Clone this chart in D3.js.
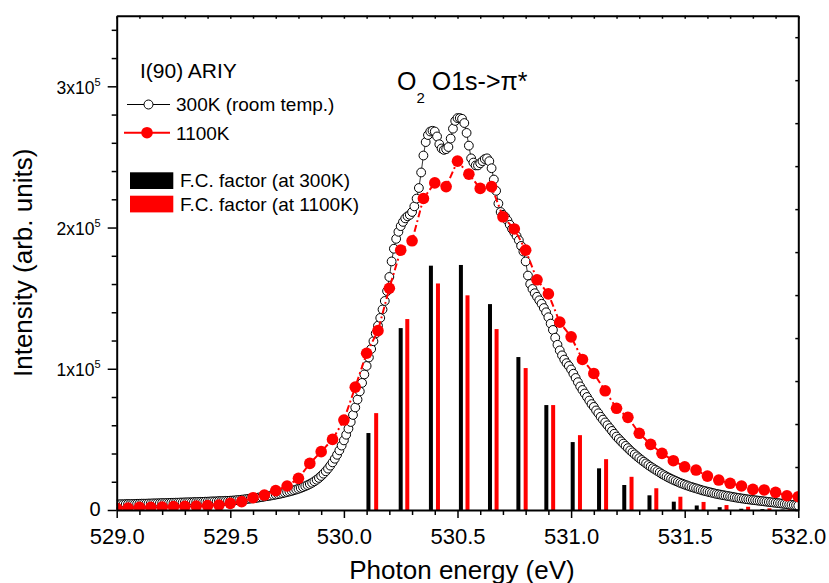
<!DOCTYPE html>
<html lang="en">
<head>
<meta charset="utf-8">
<title>O2 O1s->pi* ARIY</title>
<script src="https://cdnjs.cloudflare.com/ajax/libs/d3/7.8.5/d3.min.js"></script>
<style>
  body { margin: 0; background: #fff; }
  svg { display: block; font-family: "Liberation Sans", Arial, sans-serif; }
  .axis path, .axis line { stroke: #000; }
</style>
</head>
<body>
<div id="chart"></div>
<script>
// ---- data, intensities in units of 1000 counts ----
const e300Start = 529.0, e300Step = 0.01;
const i300K = [
  4.0, 4.0, 4.1, 4.1, 4.2, 4.2, 4.2, 4.3, 4.3, 4.4,
  4.4, 4.5, 4.5, 4.5, 4.6, 4.6, 4.7, 4.7, 4.8, 4.8,
  4.9, 4.9, 5.0, 5.0, 5.1, 5.1, 5.2, 5.2, 5.3, 5.3,
  5.4, 5.4, 5.5, 5.5, 5.6, 5.6, 5.7, 5.8, 5.8, 5.9,
  5.9, 6.0, 6.1, 6.1, 6.2, 6.3, 6.3, 6.4, 6.5, 6.5,
  6.6, 6.7, 6.8, 7.0, 7.1, 7.3, 7.5, 7.7, 7.9, 8.1,
  8.3, 8.5, 8.7, 9.0, 9.2, 9.5, 9.8, 10.0, 10.3, 10.6,
  10.9, 11.2, 11.5, 11.9, 12.3, 12.7, 13.1, 13.5, 14.0, 14.5,
  15.0, 15.6, 16.2, 16.9, 17.6, 18.4, 19.3, 20.3, 21.4, 22.7,
  24.1, 25.7, 27.4, 29.3, 31.4, 33.7, 36.3, 39.1, 42.2, 45.6,
  49.3, 53.3, 57.6, 62.3, 67.3, 72.6, 78.2, 84, 90, 96,
  102, 108, 114, 119.5, 125, 130.5, 136, 142, 148, 155,
  165, 176, 185, 192, 197, 201, 204, 206.5, 208, 209,
  211, 215, 220.5, 228, 239, 251, 260.5, 265.5, 268, 268.5,
  268, 264.5, 259, 256, 255, 255.5, 257, 263, 270, 275.5,
  277.5, 277.5, 277, 274, 267, 258, 249, 246, 244, 244,
  245.5, 247, 248.5, 249, 247, 242, 234, 226, 217, 211,
  209, 207.5, 205, 202, 199, 196.5, 194, 191, 187, 183,
  176, 166, 160, 156.5, 153.5, 151, 148.5, 146, 143, 140,
  136.5, 132, 127.5, 122, 117, 113, 109.5, 106.5, 104, 102,
  99.5, 96.5, 93.5, 90.5, 87.5, 85, 82.5, 80, 77.5, 75,
  73, 70.5, 68.5, 66, 64, 62, 60, 58, 56, 54,
  52, 50.3, 48.6, 47, 45.4, 43.8, 42.2, 40.8, 39.4, 38,
  36.7, 35.4, 34.2, 33, 31.8, 30.7, 29.6, 28.6, 27.6, 26.6,
  25.5, 24.6, 23.7, 22.9, 22.1, 21.3, 20.6, 19.9, 19.2, 18.6,
  18.0, 17.4, 16.8, 16.3, 15.8, 15.3, 14.8, 14.3, 13.8, 13.4,
  13.0, 12.6, 12.2, 11.8, 11.4, 11.1, 10.8, 10.5, 10.2, 9.9,
  9.6, 9.3, 9.0, 8.7, 8.5, 8.2, 8.0, 7.7, 7.5, 7.3,
  7.1, 6.9, 6.7, 6.5, 6.3, 6.1, 5.9, 5.7, 5.5, 5.3,
  5.1, 4.9, 4.7, 4.5, 4.3, 4.1, 3.9, 3.7, 3.5, 3.3,
  3.1
];

const e1100Start = 529.0, e1100Step = 0.05;
const i1100K = [
  1.2, 1.4, 1.9, 1.9, 2.1, 2.4, 2.6, 2.8, 3.1, 3.5,
  4.7, 5.9, 8.7, 10.6, 13.7, 17, 22.4, 33, 41.3, 50,
  63.7, 87, 111, 127, 157, 184, 190.6, 220.6, 231.6, 229,
  247, 237.8, 227.7, 229, 207.6, 199, 184, 163, 153, 133,
  122.6, 106.6, 96.7, 84.4, 72, 65.6, 54.3, 46.5, 40.1, 34.9,
  30.6, 28.3, 24, 21.2, 18.9, 17, 14.6, 14.2, 12.5, 10.1,
  9.4
];

// Franck-Condon factors (vertical bars)
const fc300E = [530.108, 530.25, 530.383, 530.515, 530.643, 530.768, 530.891, 531.007,
                531.123, 531.234, 531.345, 531.452, 531.553, 531.654, 531.749, 531.842, 531.931];
const fc300V = [54.5, 128.8, 173, 173.5, 145.8, 108.3, 74.3, 48.1,
                29.5, 17.7, 10.4, 5.9, 3.2, 2.0, 0.9, 0.6, 0.3];
const fc1100E = [530.142, 530.279, 530.414, 530.544, 530.672, 530.8, 530.921, 531.039,
                 531.154, 531.266, 531.375, 531.481, 531.583, 531.684, 531.779, 531.873, 531.961];
const fc1100V = [68.6, 135.2, 160.4, 152, 128.1, 100.5, 74.3, 53,
                 36, 23.5, 15.4, 9.4, 5.7, 3.5, 2.3, 1.2, 0.5];

const xMajorTicks = [529.0, 529.5, 530.0, 530.5, 531.0, 531.5, 532.0];
const yMajorTicks = [0, 1, 2, 3];          // x 10^5
const legendLabels = ["300K (room temp.)", "1100K", "F.C. factor (at 300K)", "F.C. factor (at 1100K)"];

// ---- layout ----
const W = 829, H = 583;
const margin = {left: 116.7, right: 30.7, top: 15.7, bottom: 73};
const innerW = W - margin.left - margin.right;
const innerH = H - margin.top - margin.bottom;

const svg = d3.select("#chart").append("svg")
  .attr("width", W).attr("height", H);

const x = d3.scaleLinear().domain([529, 532]).range([margin.left, margin.left + innerW]);
const y = d3.scaleLinear().domain([0, 350]).range([margin.top + innerH, margin.top]);
// right-hand axis carries its own (unlabelled) scale
const yRight = d3.scaleLinear().domain([0, 1.15]).range([margin.top + innerH, margin.top]);

const d300 = i300K.map((v, i) => ({e: e300Start + i * e300Step, v}));
const d1100 = i1100K.map((v, i) => ({e: e1100Start + i * e1100Step, v}));

const plot = svg.append("g");

// clip so marks stay inside the frame
svg.append("clipPath").attr("id", "clip")
  .append("rect")
  .attr("x", margin.left).attr("y", margin.top)
  .attr("width", innerW).attr("height", innerH);
plot.attr("clip-path", "url(#clip)");

// FC bars
const barW = 4;
plot.append("g").selectAll("rect")
  .data(fc300E.map((e, i) => ({e, v: fc300V[i]})))
  .join("rect")
    .attr("x", d => x(d.e) - barW / 2)
    .attr("y", d => y(d.v))
    .attr("width", barW)
    .attr("height", d => y(0) - y(d.v))
    .attr("fill", "#000");

plot.append("g").selectAll("rect")
  .data(fc1100E.map((e, i) => ({e, v: fc1100V[i]})))
  .join("rect")
    .attr("x", d => x(d.e) - barW / 2)
    .attr("y", d => y(d.v))
    .attr("width", barW)
    .attr("height", d => y(0) - y(d.v))
    .attr("fill", "#ff0000");

// 300K open circles
const line = d3.line().x(d => x(d.e)).y(d => y(d.v));
plot.append("path").datum(d300)
  .attr("d", line).attr("fill", "none").attr("stroke", "#000").attr("stroke-width", 0.8);
plot.append("g").selectAll("circle")
  .data(d300)
  .join("circle")
    .attr("cx", d => x(d.e))
    .attr("cy", d => y(d.v))
    .attr("r", 4.4)
    .attr("fill", "#fff")
    .attr("stroke", "#000")
    .attr("stroke-width", 1);

// 1100K filled red circles with dash-dot line
plot.append("path").datum(d1100)
  .attr("d", line).attr("fill", "none")
  .attr("stroke", "#ff0000").attr("stroke-width", 2)
  .attr("stroke-dasharray", "7,3,2,3");
plot.append("g").selectAll("circle")
  .data(d1100)
  .join("circle")
    .attr("cx", d => x(d.e))
    .attr("cy", d => y(d.v))
    .attr("r", 5.8)
    .attr("fill", "#ff0000");

// ---- axes ----
const xAxis = svg.append("g").attr("class", "axis")
  .attr("transform", `translate(0,${margin.top + innerH})`)
  .call(d3.axisBottom(x).tickValues(d3.range(0, 31).map(i => 529 + i * 0.1))
    .tickSize(5).tickFormat("").tickSizeOuter(0));
xAxis.select(".domain").attr("stroke-width", 2);
xAxis.selectAll(".tick line").attr("stroke-width", 1.5)
  .filter(d => xMajorTicks.some(t => Math.abs(t - d) < 1e-6)).attr("y2", 8);
xAxis.selectAll(".tick")
  .filter(d => xMajorTicks.some(t => Math.abs(t - d) < 1e-6))
  .append("text")
    .attr("y", 34).attr("fill", "#000")
    .attr("text-anchor", "middle")
    .style("font-size", "22px")
    .text(d => d.toFixed(1));

const yAxis = svg.append("g").attr("class", "axis")
  .attr("transform", `translate(${margin.left},0)`)
  .call(d3.axisLeft(y).tickValues(d3.range(0, 18).map(i => i * 20))
    .tickSize(5).tickFormat("").tickSizeOuter(0));
yAxis.select(".domain").attr("stroke-width", 2);
yAxis.selectAll(".tick line").attr("stroke-width", 1.5)
  .filter(d => d % 100 === 0).attr("x2", -9);
yAxis.selectAll(".tick")
  .filter(d => yMajorTicks.includes(d / 100))
  .each(function(d) {
    const t = d3.select(this).append("text")
      .attr("fill", "#000").attr("text-anchor", "end");
    const m = d / 100;
    if (m === 0) {
      t.attr("x", -16).attr("y", 5).style("font-size", "20px").text("0");
    } else {
      t.attr("x", -16).attr("y", 7).style("font-size", "17.5px");
      t.append("tspan").text(`${m}x10`);
      t.append("tspan").attr("dy", -8).style("font-size", "11px").text("5");
    }
  });

// top and right frame
const topAxis = svg.append("g").attr("class", "axis")
  .attr("transform", `translate(0,${margin.top})`)
  .call(d3.axisBottom(x).tickValues(d3.range(0, 31).map(i => 529 + i * 0.1))
    .tickSize(3).tickFormat("").tickSizeOuter(0));
topAxis.select(".domain").attr("stroke-width", 2);
topAxis.selectAll(".tick line").attr("stroke-width", 1.5);

const rightAxis = svg.append("g").attr("class", "axis")
  .attr("transform", `translate(${margin.left + innerW},0)`)
  .call(d3.axisLeft(yRight).tickValues(d3.range(0, 12).map(i => i * 0.1))
    .tickSize(3).tickFormat("").tickSizeOuter(0));
rightAxis.select(".domain").attr("stroke-width", 2);
rightAxis.selectAll(".tick line").attr("stroke-width", 1.5);

// axis titles
svg.append("text")
  .attr("x", 462).attr("y", 579)
  .attr("text-anchor", "middle")
  .style("font-size", "26px")
  .text("Photon energy (eV)");

svg.append("text")
  .attr("transform", `translate(32,${margin.top + innerH / 2}) rotate(-90)`)
  .attr("text-anchor", "middle")
  .style("font-size", "26px")
  .text("Intensity (arb. units)");

// title
const title = svg.append("text")
  .attr("x", 397).attr("y", 90)
  .style("font-size", "25px");
title.append("tspan").text("O");
title.append("tspan").attr("dy", 13).style("font-size", "15px").text("2");
title.append("tspan").attr("dy", -13).text(" O1s->\u03c0*");

// ---- legend ----
const lg = svg.append("g");
lg.append("text").attr("x", 140).attr("y", 78).style("font-size", "21px").text("I(90) ARIY");

lg.append("line").attr("x1", 127).attr("x2", 170).attr("y1", 104.5).attr("y2", 104.5)
  .attr("stroke", "#000").attr("stroke-width", 1);
lg.append("circle").attr("cx", 148.5).attr("cy", 104.5).attr("r", 4.5)
  .attr("fill", "#fff").attr("stroke", "#000").attr("stroke-width", 1);
lg.append("text").attr("x", 176).attr("y", 111).style("font-size", "19px").text(legendLabels[0]);

lg.append("line").attr("x1", 124).attr("x2", 170).attr("y1", 132.7).attr("y2", 132.7)
  .attr("stroke", "#ff0000").attr("stroke-width", 2);
lg.append("circle").attr("cx", 147).attr("cy", 132.7).attr("r", 5.8).attr("fill", "#ff0000");
lg.append("text").attr("x", 176).attr("y", 139.5).style("font-size", "19px").text(legendLabels[1]);

lg.append("rect").attr("x", 130).attr("y", 172.3).attr("width", 43.3).attr("height", 16.7).attr("fill", "#000");
lg.append("text").attr("x", 180).attr("y", 187).style("font-size", "19px").text(legendLabels[2]);
lg.append("rect").attr("x", 130).attr("y", 195.7).attr("width", 43.3).attr("height", 16.7).attr("fill", "#ff0000");
lg.append("text").attr("x", 180).attr("y", 210.5).style("font-size", "19px").text(legendLabels[3]);
</script>
</body>
</html>
